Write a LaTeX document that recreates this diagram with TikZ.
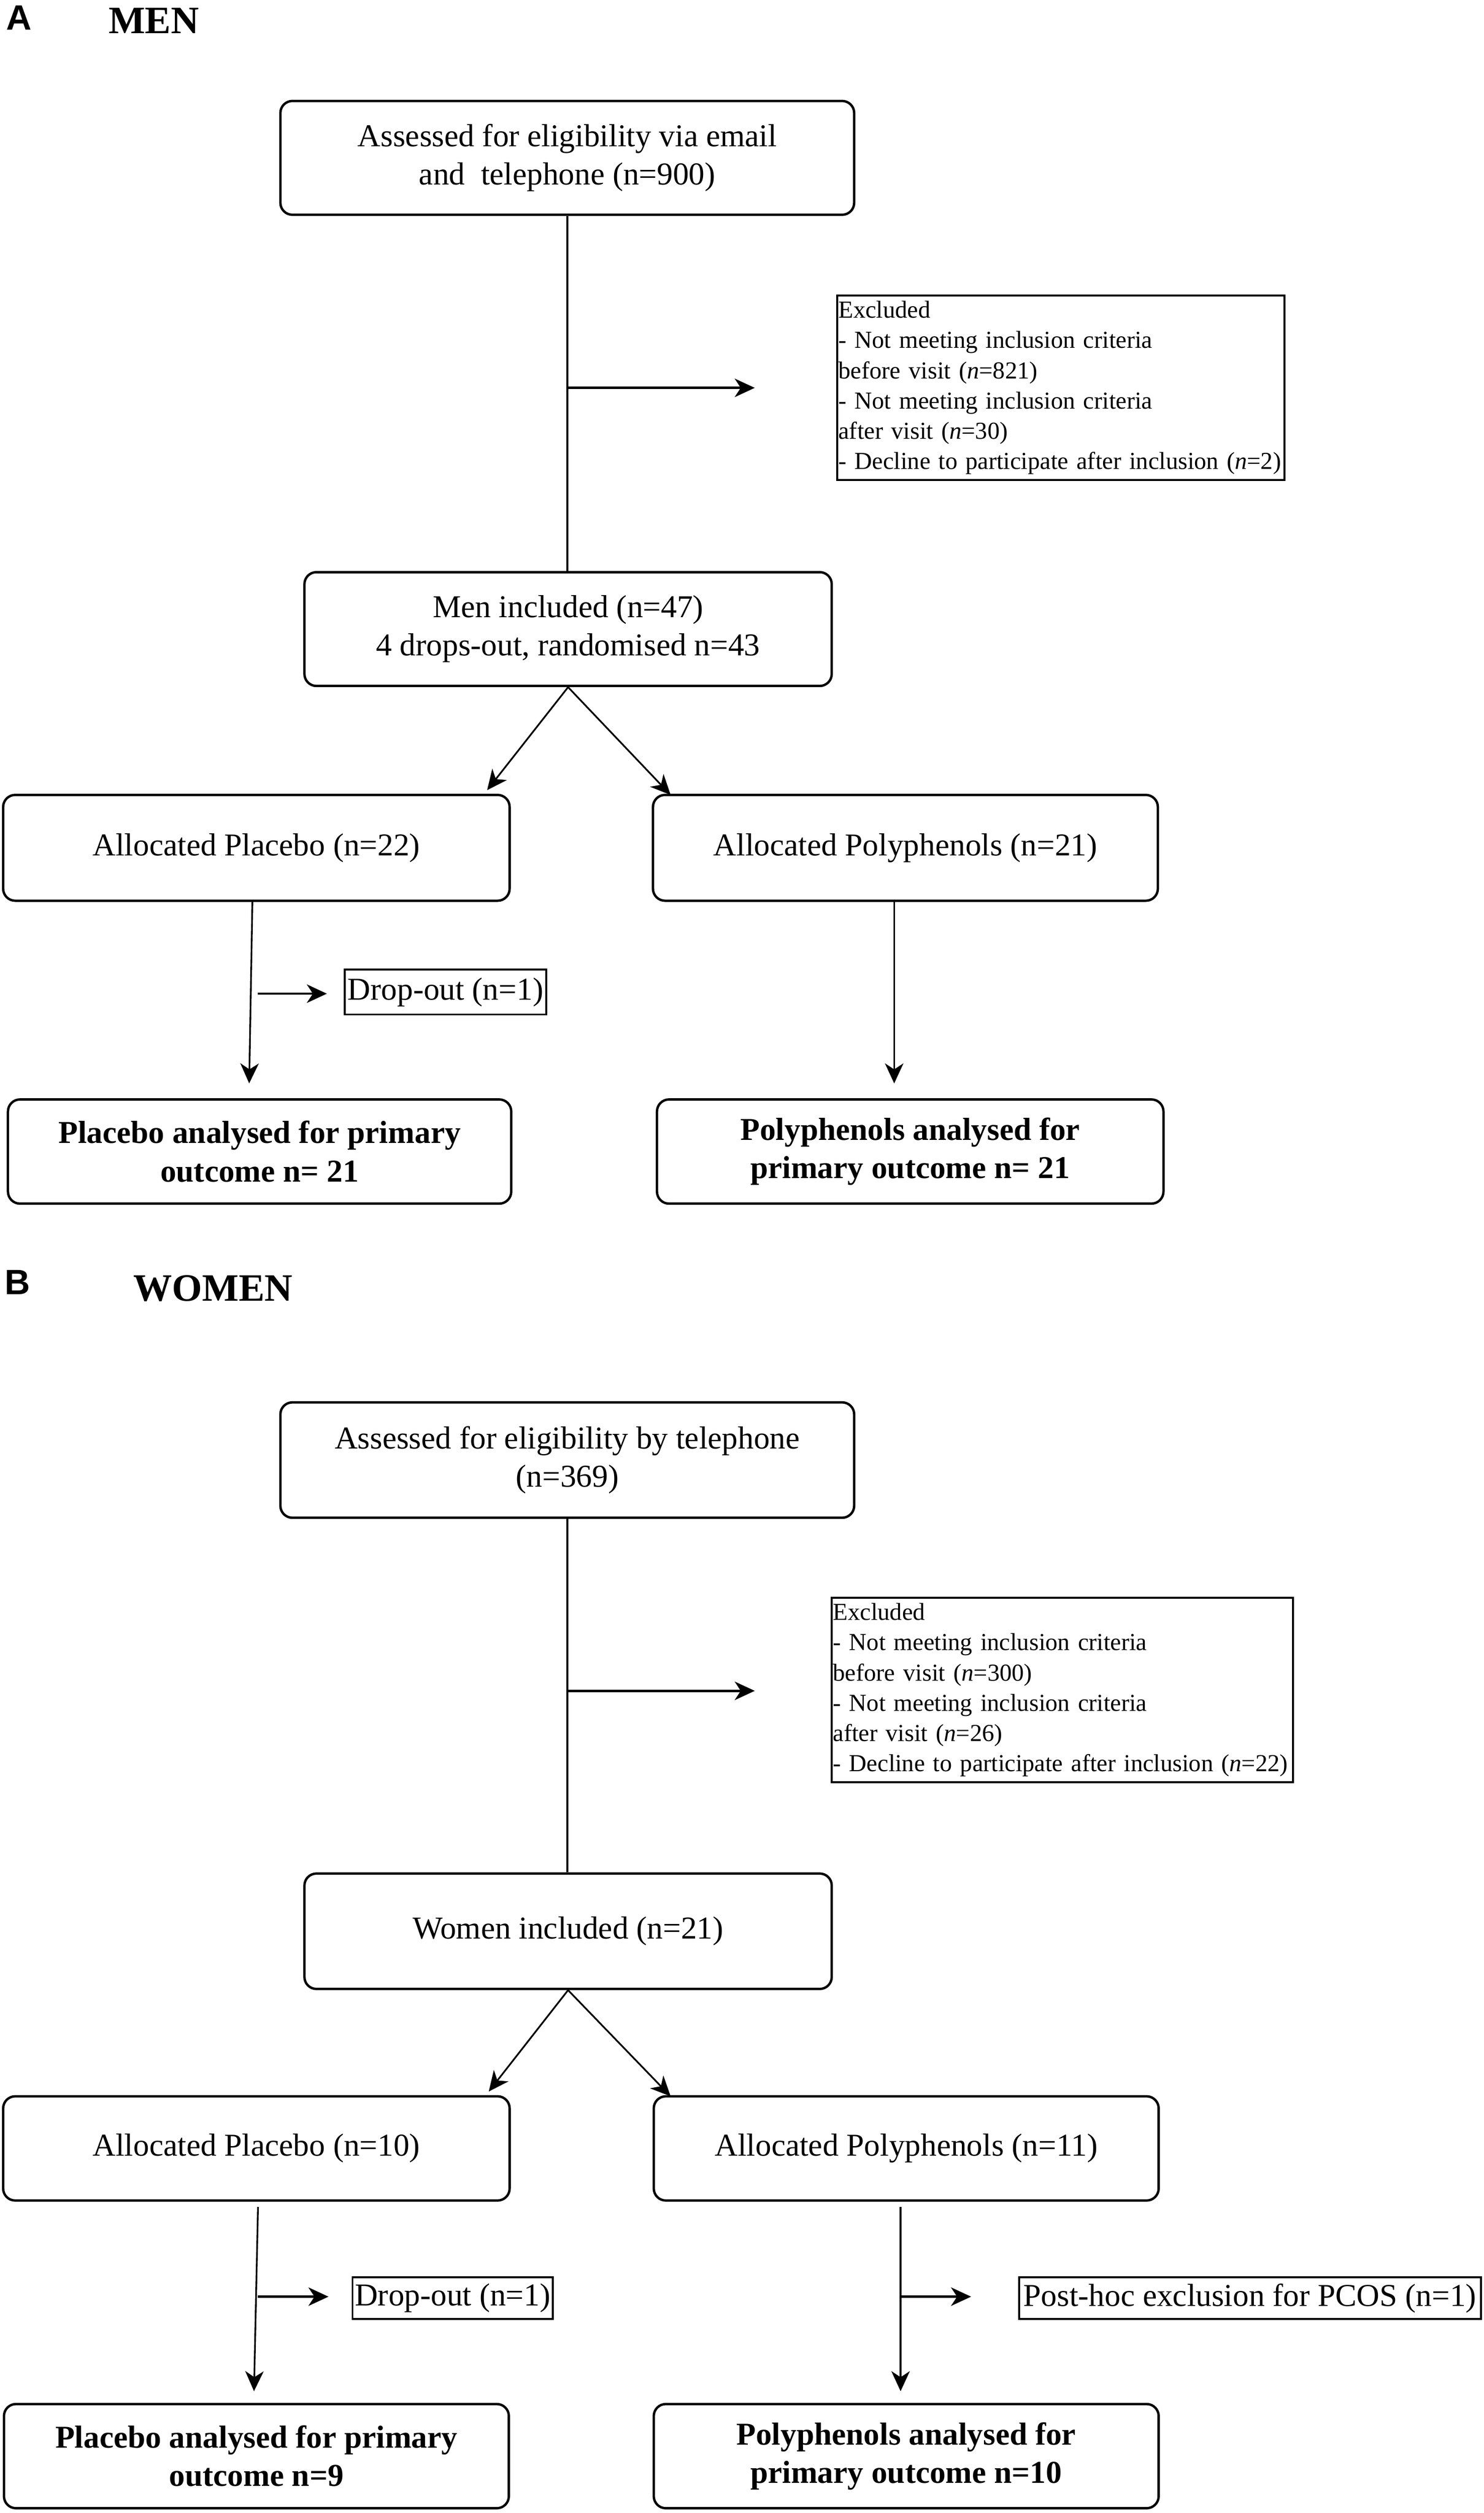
\documentclass[tikz,border=0pt]{standalone}
\usepackage{fontspec}
\setmainfont{Liberation Serif}
\newfontfamily\panelfont{Liberation Sans}
\usetikzlibrary{arrows.meta}
\begin{document}
\begin{tikzpicture}[x=0.04cm,y=-0.04cm,
  box/.style={draw, line width=1.7pt, rounded corners=0.3cm, align=center, inner sep=0pt,
    font=\fontsize{22.6}{27.2}\selectfont},
  boldbox/.style={box, font=\fontsize{22.6}{27.2}\selectfont\bfseries},
  exbox/.style={draw, line width=1.4pt, align=left, inner xsep=1pt, inner ysep=0pt,
    font=\fontsize{17.3}{21.5}\selectfont},
  sbox/.style={draw, line width=1.4pt, inner sep=0pt, font=\fontsize{22.6}{27.2}\selectfont},
  panel/.style={font=\panelfont\fontsize{25}{30}\selectfont\bfseries},
  head/.style={font=\fontsize{27.5}{32}\selectfont\bfseries},
  conn/.style={line width=1.2pt},
  tip/.style={-{Stealth[length=0.5cm,width=0.46cm,inset=0.15cm]}},
  arr/.style={conn, tip},
  harr/.style={line width=1.7pt, tip},
]
\useasboundingbox (0,0) rectangle (926,1568);

% ---------------- Panel A ----------------
\node[panel] (pA) at (12,11) {A};
\node[head] (hA) at (96,13) {MEN};

\node[box, minimum width=14.32cm, minimum height=2.84cm] (a1) at (354,98.5)
  {Assessed for eligibility via email\\and\ \ telephone (n=900)};
\node[exbox, text width=11.1cm, minimum height=4.6cm] (aex) at (662,242)
  {Excluded\\- Not meeting inclusion criteria\\before visit (\textit{n}=821)\\- Not meeting inclusion criteria\\after visit (\textit{n}=30)\\\mbox{- Decline to participate after inclusion (\textit{n}=2)}};
\node[box, minimum width=13.16cm, minimum height=2.84cm] (a2) at (354.5,392.5)
  {Men included (n=47)\\4 drops-out, randomised n=43};
\node[box, minimum width=12.64cm, minimum height=2.64cm] (a3) at (160,529)
  {Allocated Placebo (n=22)};
\node[box, minimum width=12.6cm, minimum height=2.64cm] (a4) at (565,529)
  {Allocated Polyphenols (n=21)};
\node[sbox, minimum width=5.04cm, minimum height=1.12cm] (adrop) at (278,619)
  {Drop-out (n=1)};
\node[boldbox, minimum width=12.56cm, minimum height=2.6cm] (a5) at (162,718.5)
  {Placebo analysed for primary\\outcome n= 21};
\node[boldbox, minimum width=12.64cm, minimum height=2.6cm] (a6) at (568,718.5)
  {Polyphenols analysed for\\primary outcome n= 21};

\coordinate (aexin) at (471,242);
\coordinate (a3in) at (304,493);
\coordinate (a4in) at (418.5,496);
\coordinate (a3out) at (157.5,562);
\coordinate (a5in) at (155.5,676);
\coordinate (adropout) at (161,620);
\coordinate (adropin) at (204,620);
\coordinate (a4out) at (558,562);
\coordinate (a6in) at (558,676);

\draw[conn] (a1.south) -- (a1.south |- a2.north);
\draw[harr] (a1.south |- aexin) -- (aexin);
\draw[arr] (a2.south) -- (a3in);
\draw[arr] (a2.south) -- (a4in);
\draw[arr] (a3out) -- (a5in);
\draw[harr] (adropout) -- (adropin);
\draw[arr] (a4out) -- (a6in);

% ---------------- Panel B ----------------
\node[panel] (pB) at (11,800) {B};
\node[head] (hB) at (133,804) {WOMEN};

\node[box, minimum width=14.32cm, minimum height=2.88cm] (b1) at (354,911)
  {Assessed for eligibility by telephone\\(n=369)};
\node[exbox, text width=11.45cm, minimum height=4.6cm] (bex) at (663,1054.5)
  {Excluded\\- Not meeting inclusion criteria\\before visit (\textit{n}=300)\\- Not meeting inclusion criteria\\after visit (\textit{n}=26)\\\mbox{- Decline to participate after inclusion (\textit{n}=22)}};
\node[box, minimum width=13.16cm, minimum height=2.88cm] (b2) at (354.5,1205)
  {Women included (n=21)};
\node[box, minimum width=12.64cm, minimum height=2.6cm] (b3) at (160,1340.5)
  {Allocated Placebo (n=10)};
\node[box, minimum width=12.6cm, minimum height=2.6cm] (b4) at (565.5,1340.5)
  {Allocated Polyphenols (n=11)};
\node[sbox, minimum width=5cm, minimum height=1.04cm] (bdrop) at (282.5,1434)
  {Drop-out (n=1)};
\node[sbox, minimum width=11.52cm, minimum height=1.04cm] (bpost) at (780,1434)
  {Post-hoc exclusion for PCOS (n=1)};
\node[boldbox, minimum width=12.6cm, minimum height=2.6cm] (b5) at (160,1532.5)
  {Placebo analysed for primary\\outcome n=9};
\node[boldbox, minimum width=12.6cm, minimum height=2.6cm] (b6) at (565.5,1532.5)
  {Polyphenols analysed for\\primary outcome n=10};

\coordinate (bexin) at (471,1055);
\coordinate (b3in) at (305,1305);
\coordinate (b4in) at (418.5,1308);
\coordinate (b3out) at (161,1377);
\coordinate (b5in) at (158.5,1492);
\coordinate (bdropout) at (161,1433);
\coordinate (bdropin) at (205,1433);
\coordinate (b4out) at (562,1377);
\coordinate (b6in) at (562,1492);
\coordinate (bpostout) at (562,1433);
\coordinate (bpostin) at (606,1433);

\draw[conn] (b1.south) -- (b1.south |- b2.north);
\draw[harr] (b1.south |- bexin) -- (bexin);
\draw[arr] (b2.south) -- (b3in);
\draw[arr] (b2.south) -- (b4in);
\draw[arr] (b3out) -- (b5in);
\draw[harr] (bdropout) -- (bdropin);
\draw[arr] (b4out) -- (b6in);
\draw[harr] (bpostout) -- (bpostin);
\end{tikzpicture}
\end{document}
